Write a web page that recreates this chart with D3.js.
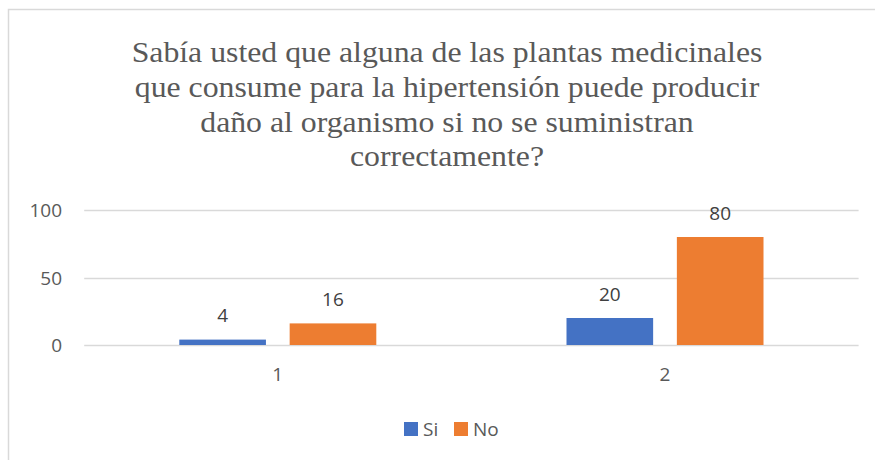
<!DOCTYPE html>
<html><head><meta charset="utf-8">
<script src="https://cdn.jsdelivr.net/npm/d3@7"></script>
<style>body{margin:0;background:#fff;}svg{display:block;}</style>
</head><body>
<svg id="c" width="875" height="460"></svg>
<script>
const categories = ["1", "2"];
const seriesNames = ["Si", "No"];
const siValues = [4, 20];
const noValues = [16, 80];
const yTicks = [0, 50, 100];
const titleLines = [
  "Sabía usted que alguna de las plantas medicinales",
  "que consume para la hipertensión puede producir",
  "daño al organismo si no se suministran",
  "correctamente?"
];
const colors = {"Si": "#4472C4", "No": "#ED7D31"};

const svg = d3.select("#c");
svg.append("rect").attr("x", 8.5).attr("y", 9.5).attr("width", 900).attr("height", 460)
  .attr("fill", "#fff").attr("stroke", "#d9d9d9").attr("stroke-width", 1.5);

const sans = "'Open Sans', 'Liberation Sans', sans-serif";
const txt = "#595959";

svg.append("g").attr("transform", "translate(447,0) scale(1.115,1)")
  .selectAll("text").data(titleLines).join("text")
  .attr("x", 0).attr("y", (d, i) => 62 + i * 34.8)
  .attr("text-anchor", "middle")
  .attr("font-family", "'Liberation Serif', 'Times New Roman', serif")
  .attr("font-size", 28.5).attr("fill", txt).text(d => d);

const left = 84.2, right = 858.6;
const y = d3.scaleLinear().domain([0, 100]).range([345, 210]);
const x0 = d3.scaleBand().domain(categories).range([left, right]).padding(0);
const groupW = 197;
const x1 = d3.scaleBand().domain(seriesNames).range([0, groupW]).paddingInner(0.215);

// gridlines
svg.append("g").selectAll("line").data(yTicks).join("line")
  .attr("x1", left).attr("x2", right)
  .attr("y1", d => Math.round(y(d)) + 0.5).attr("y2", d => Math.round(y(d)) + 0.5)
  .attr("stroke", "#d9d9d9").attr("stroke-width", 1.3);

// y axis labels
const yAxis = d3.axisLeft(y).tickValues(yTicks).tickSize(0).tickPadding(0);
const ya = svg.append("g").attr("transform", "translate(62,0)").call(yAxis);
ya.select(".domain").remove();
ya.selectAll("text").attr("font-family", sans).attr("font-size", 19).attr("fill", txt).attr("dy", "0.36em");

// x axis labels
const xAxis = d3.axisBottom(x0).tickSize(0).tickPadding(0);
const xa = svg.append("g").attr("transform", "translate(0,367)").call(xAxis);
xa.select(".domain").remove();
xa.selectAll("text").attr("font-family", sans).attr("font-size", 19).attr("fill", txt).attr("dy", "0.71em");

const rows = categories.map((c, i) => ({cat: c, vals: [{s: "Si", v: siValues[i]}, {s: "No", v: noValues[i]}]}));
const g = svg.append("g").selectAll("g").data(rows).join("g")
  .attr("transform", d => `translate(${x0(d.cat) + (x0.bandwidth() - groupW) / 2},0)`);
g.selectAll("rect").data(d => d.vals).join("rect")
  .attr("x", d => x1(d.s)).attr("width", x1.bandwidth())
  .attr("y", d => y(d.v)).attr("height", d => y(0) - y(d.v))
  .attr("fill", d => colors[d.s]);
g.selectAll("text").data(d => d.vals).join("text")
  .attr("x", d => x1(d.s) + x1.bandwidth() / 2).attr("y", d => y(d.v) - 17.5)
  .attr("text-anchor", "middle").attr("font-family", sans).attr("font-size", 19)
  .attr("fill", "#404040").text(d => d.v);

// legend
const leg = svg.append("g").attr("transform", "translate(404,422)");
const items = [{s: "Si", x: 0}, {s: "No", x: 50}];
items.forEach(it => {
  leg.append("rect").attr("x", it.x).attr("y", 0).attr("width", 14).attr("height", 14).attr("fill", colors[it.s]);
  leg.append("text").attr("x", it.x + 19).attr("y", 14).attr("font-family", sans).attr("font-size", 19)
    .attr("fill", txt).text(it.s);
});
</script>
</body></html>
